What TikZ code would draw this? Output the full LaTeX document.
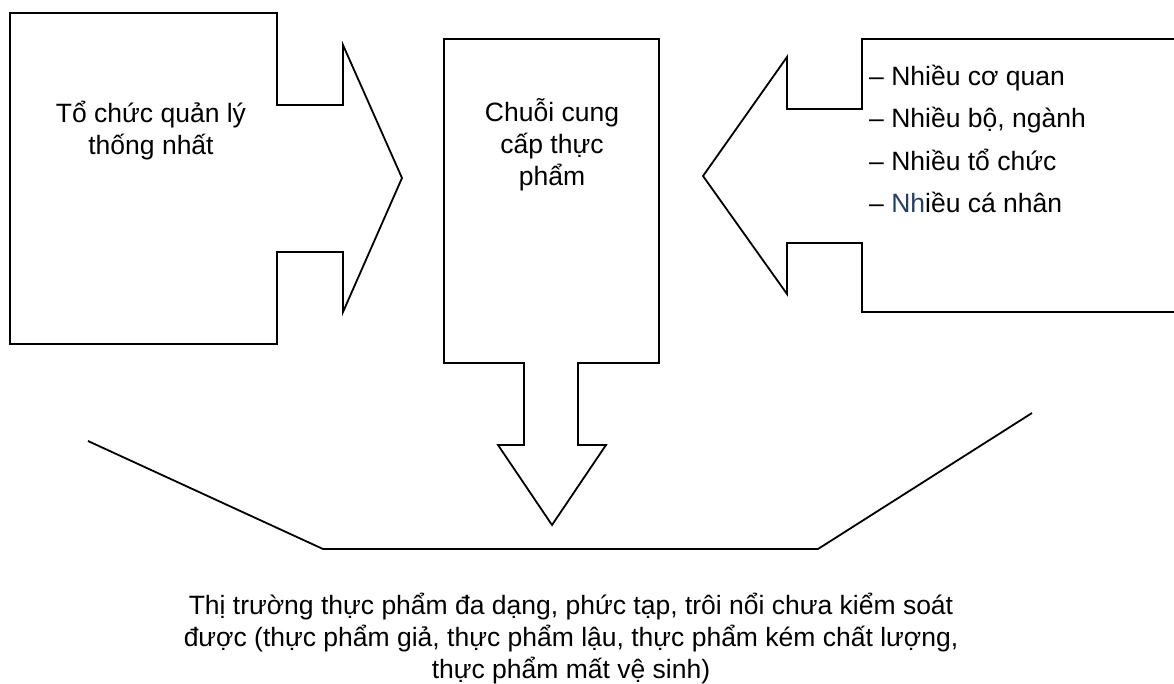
\documentclass[tikz,border=0pt]{standalone}
\usepackage{fontspec}
\setmainfont{Liberation Sans}
\definecolor{nhblue}{RGB}{36,62,99}
\begin{document}
\begin{tikzpicture}[x=1pt,y=-1pt,
  blockshape/.style={draw=black, line width=1.8pt, line join=miter},
  lbl/.style={font=\fontsize{26.5}{32}\selectfont, align=center, inner sep=0pt},
  listlbl/.style={font=\fontsize{26.5}{42.5}\selectfont, align=left, inner sep=0pt}]
\useasboundingbox (0,0) rectangle (1174,684);
\clip (0,0) rectangle (1174,684);
% left block arrow
\draw[blockshape] (10,13) -- (277,13) -- (277,105) -- (343,105) -- (343,45) -- (402,178)
  -- (343,312) -- (343,252) -- (277,252) -- (277,344) -- (10,344) -- cycle;
% middle block arrow (down)
\draw[blockshape] (444,39) -- (659,39) -- (659,363) -- (578,363) -- (578,445) -- (606,445)
  -- (552,525) -- (498,445) -- (524,445) -- (524,363) -- (444,363) -- cycle;
% right block arrow (left)
\draw[blockshape] (1200,39) -- (862,39) -- (862,109) -- (787,109) -- (787,57) -- (703,176)
  -- (787,294) -- (787,243) -- (862,243) -- (862,312) -- (1200,312);
% bottom trough
\draw[blockshape] (88,441) -- (323,549) -- (818,549) -- (1032,413);
% texts (base anchor = baseline of the last line)
\node[lbl, anchor=base] (left) at (151,155) {Tổ chức quản lý\\thống nhất};
\node[lbl, anchor=base] (mid) at (552,186) {Chuỗi cung\\cấp thực\\phẩm};
\node[listlbl, anchor=base west] (right) at (869,213) {– Nhiều cơ quan\\– Nhiều bộ, ngành\\– Nhiều tổ chức\\– {\color{nhblue}Nh}iều cá nhân};
\node[lbl, anchor=base] (market) at (571,678) {Thị trường thực phẩm đa dạng, phức tạp, trôi nổi chưa kiểm soát\\được (thực phẩm giả, thực phẩm lậu, thực phẩm kém chất lượng,\\thực phẩm mất vệ sinh)};
\end{tikzpicture}
\end{document}
